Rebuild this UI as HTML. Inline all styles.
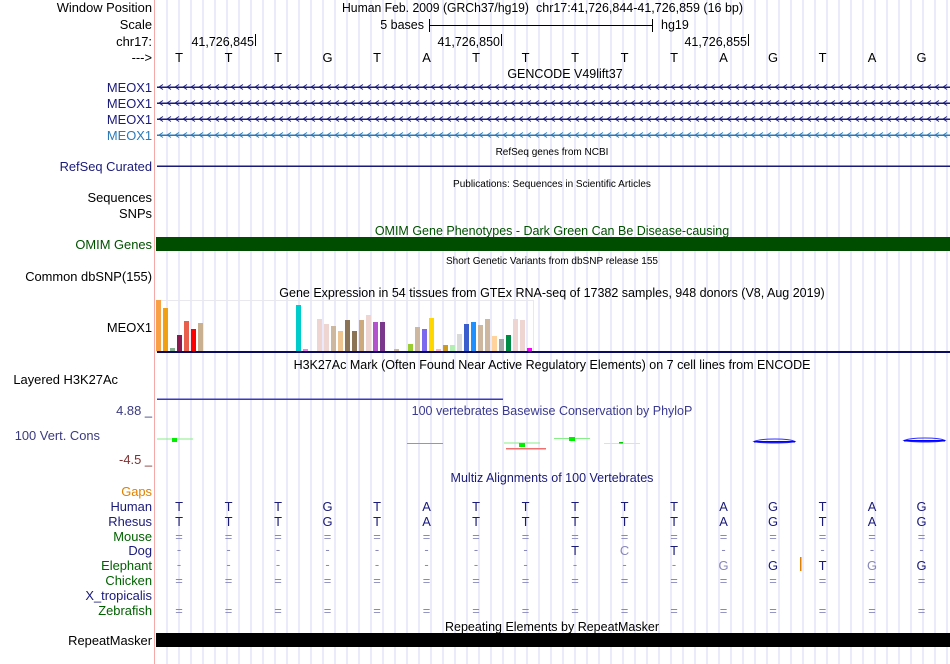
<!DOCTYPE html>
<html><head><meta charset="utf-8"><style>
html,body{margin:0;padding:0;background:#fff}
svg{display:block;font-family:"Liberation Sans",sans-serif}
</style></head><body>
<svg width="950" height="664" viewBox="0 0 950 664" xmlns="http://www.w3.org/2000/svg">
<defs>
<pattern id="grid" patternUnits="userSpaceOnUse" x="166.5" y="0" width="12" height="10">
<rect x="0" y="0" width="1" height="10" fill="#d6d6f6"/>
</pattern>
<pattern id="chev" patternUnits="userSpaceOnUse" x="157" y="0" width="8" height="664">
<path d="M6,84.5 L2,87 L6,89.5 M6,100.5 L2,103 L6,105.5 M6,116.5 L2,119 L6,121.5" stroke="#1a1a7a" stroke-width="0.9" fill="none"/>
<path d="M6,132.5 L2,135 L6,137.5" stroke="#2a7ab8" stroke-width="0.9" fill="none"/>
</pattern>
</defs>
<rect x="156" y="0" width="794" height="664" fill="url(#grid)"/>
<rect x="154" y="0" width="1" height="664" fill="#f4a8a8"/>

<g font-size="12.9" text-anchor="end" fill="#000">
<text x="152" y="12">Window Position</text>
<text x="152" y="29">Scale</text>
<text x="152" y="46">chr17:</text>
<text x="152" y="62">---&gt;</text>
<text x="152" y="92" fill="#1a1a7a">MEOX1</text>
<text x="152" y="108" fill="#1a1a7a">MEOX1</text>
<text x="152" y="124" fill="#1a1a7a">MEOX1</text>
<text x="152" y="140" fill="#2a7ab8">MEOX1</text>
<text x="152" y="171" fill="#1a1a7a">RefSeq Curated</text>
<text x="152" y="202">Sequences</text>
<text x="152" y="218">SNPs</text>
<text x="152" y="249" fill="#005000">OMIM Genes</text>
<text x="152" y="281">Common dbSNP(155)</text>
<text x="152" y="332">MEOX1</text>
<text x="118" y="384">Layered H3K27Ac</text>
<text x="152" y="415" fill="#3a3a80">4.88 _</text>
<text x="100" y="440" fill="#3a3a80">100 Vert. Cons</text>
<text x="152" y="464" fill="#803030">-4.5 _</text>
<text x="152" y="496" fill="#e08000">Gaps</text>
<text x="152" y="511" fill="#1a1a7a">Human</text>
<text x="152" y="526" fill="#1a1a7a">Rhesus</text>
<text x="152" y="541" fill="#006000">Mouse</text>
<text x="152" y="555" fill="#1a1a7a">Dog</text>
<text x="152" y="570" fill="#006000">Elephant</text>
<text x="152" y="585" fill="#006000">Chicken</text>
<text x="152" y="600" fill="#1a1a7a">X_tropicalis</text>
<text x="152" y="615" fill="#006000">Zebrafish</text>
<text x="152" y="645">RepeatMasker</text>
</g>

<g font-size="12.5" fill="#000">
<text x="342" y="12" textLength="187" lengthAdjust="spacingAndGlyphs">Human Feb. 2009 (GRCh37/hg19)</text>
<text x="536" y="12" textLength="207" lengthAdjust="spacingAndGlyphs">chr17:41,726,844-41,726,859 (16 bp)</text>
<text x="424" y="29" text-anchor="end">5 bases</text>
<path d="M429.5,19v13M429,25.5H652M652.5,19v13" stroke="#000" fill="none"/>
<text x="661" y="29">hg19</text>
<text x="254" y="46" text-anchor="end">41,726,845</text>
<rect x="255" y="34" width="1" height="12" fill="#000"/>
<text x="500" y="46" text-anchor="end">41,726,850</text>
<rect x="501" y="34" width="1" height="12" fill="#000"/>
<text x="747" y="46" text-anchor="end">41,726,855</text>
<rect x="748" y="34" width="1" height="12" fill="#000"/>
<text x="565" y="78" text-anchor="middle">GENCODE V49lift37</text>
<text x="552" y="235" text-anchor="middle" fill="#005000">OMIM Gene Phenotypes - Dark Green Can Be Disease-causing</text>
<text x="552" y="297" text-anchor="middle">Gene Expression in 54 tissues from GTEx RNA-seq of 17382 samples, 948 donors (V8, Aug 2019)</text>
<text x="552" y="369" text-anchor="middle">H3K27Ac Mark (Often Found Near Active Regulatory Elements) on 7 cell lines from ENCODE</text>
<text x="552" y="415" text-anchor="middle" fill="#3a3a90">100 vertebrates Basewise Conservation by PhyloP</text>
<text x="552" y="482" text-anchor="middle" fill="#1a1a7a">Multiz Alignments of 100 Vertebrates</text>
<text x="552" y="631" text-anchor="middle">Repeating Elements by RepeatMasker</text>
</g>
<g font-size="10" fill="#000" text-anchor="middle">
<text x="552" y="155">RefSeq genes from NCBI</text>
<text x="552" y="187">Publications: Sequences in Scientific Articles</text>
<text x="552" y="264">Short Genetic Variants from dbSNP release 155</text>
</g>

<g font-size="12.9" text-anchor="middle" fill="#000">
<text x="179" y="62">T</text><text x="228.5" y="62">T</text><text x="278" y="62">T</text><text x="327.5" y="62">G</text><text x="377" y="62">T</text><text x="426.5" y="62">A</text><text x="476" y="62">T</text><text x="525.5" y="62">T</text><text x="575" y="62">T</text><text x="624.5" y="62">T</text><text x="674" y="62">T</text><text x="723.5" y="62">A</text><text x="773" y="62">G</text><text x="822.5" y="62">T</text><text x="872" y="62">A</text><text x="921.5" y="62">G</text>
</g>

<rect x="157" y="86.5" width="793" height="1.5" fill="#1a1a7a"/>
<rect x="157" y="102.5" width="793" height="1.5" fill="#1a1a7a"/>
<rect x="157" y="118.5" width="793" height="1.5" fill="#1a1a7a"/>
<rect x="157" y="134.5" width="793" height="1.5" fill="#2a7ab8"/>
<rect x="157" y="80" width="793" height="62" fill="url(#chev)"/>
<rect x="157" y="165.5" width="793" height="1.5" fill="#1a1a7a"/>

<rect x="156" y="237" width="794" height="14" fill="#004d00"/>

<rect x="156.5" y="300.5" width="377" height="51" fill="none" stroke="#e8e8ee"/>
<g>
<rect x="156" y="300" width="5" height="51" fill="#f8a048"/>
<rect x="163" y="308" width="5" height="43" fill="#f0a010"/>
<rect x="170" y="348" width="5" height="3" fill="#88b090"/>
<rect x="177" y="335" width="5" height="16" fill="#8b1a50"/>
<rect x="184" y="321" width="5" height="30" fill="#e8604c"/>
<rect x="191" y="329" width="5" height="22" fill="#ff0000"/>
<rect x="198" y="323" width="5" height="28" fill="#c8b090"/>
<rect x="296" y="305" width="5" height="46" fill="#00cccc"/>
<rect x="303" y="349" width="5" height="2" fill="#ee82ee"/>
<rect x="317" y="319" width="5" height="32" fill="#eed5d2"/>
<rect x="324" y="324" width="5" height="27" fill="#eed5d2"/>
<rect x="331" y="326" width="5" height="25" fill="#cdb79e"/>
<rect x="338" y="331" width="5" height="20" fill="#eec591"/>
<rect x="345" y="320" width="5" height="31" fill="#8b7355"/>
<rect x="352" y="331" width="5" height="20" fill="#8b7355"/>
<rect x="359" y="320" width="5" height="31" fill="#cdaa7d"/>
<rect x="366" y="315" width="5" height="36" fill="#eed5d2"/>
<rect x="373" y="322" width="5" height="29" fill="#b452cd"/>
<rect x="380" y="322" width="5" height="29" fill="#7a378b"/>
<rect x="394" y="349" width="5" height="2" fill="#cdb79e"/>
<rect x="408" y="344" width="5" height="7" fill="#9acd32"/>
<rect x="415" y="327" width="5" height="24" fill="#cdb79e"/>
<rect x="422" y="329" width="5" height="22" fill="#7b68ee"/>
<rect x="429" y="318" width="5" height="33" fill="#ffd700"/>
<rect x="436" y="349" width="5" height="2" fill="#ffb6c1"/>
<rect x="443" y="345" width="5" height="6" fill="#cd9b1d"/>
<rect x="450" y="345" width="5" height="6" fill="#b4eeb4"/>
<rect x="457" y="334" width="5" height="17" fill="#d9d9d9"/>
<rect x="464" y="324" width="5" height="27" fill="#3a5fcd"/>
<rect x="471" y="322" width="5" height="29" fill="#1e90ff"/>
<rect x="478" y="325" width="5" height="26" fill="#cdb79e"/>
<rect x="485" y="319" width="5" height="32" fill="#cdb79e"/>
<rect x="492" y="336" width="5" height="15" fill="#ffd39b"/>
<rect x="499" y="339" width="5" height="12" fill="#a6a6a6"/>
<rect x="506" y="335" width="5" height="16" fill="#008b45"/>
<rect x="513" y="319" width="5" height="32" fill="#eed5d2"/>
<rect x="520" y="320" width="5" height="31" fill="#eed5d2"/>
<rect x="527" y="348" width="5" height="3" fill="#ff00ff"/>
</g>
<rect x="157" y="351" width="793" height="2" fill="#0a0a60"/>

<rect x="157" y="398.5" width="346" height="1.5" fill="#3a3ac0"/>

<rect x="157" y="438.5" width="36" height="1" fill="#88ee88"/>
<rect x="172" y="438" width="5" height="4" fill="#00ee00"/>
<rect x="407" y="443" width="36" height="1" fill="#999999"/>
<rect x="504" y="442.5" width="36" height="1" fill="#88ee88"/>
<rect x="519" y="443" width="6" height="4" fill="#00ee00"/>
<rect x="506" y="448" width="40" height="1.5" fill="#f07070"/>
<rect x="554" y="438" width="36" height="1" fill="#88ee88"/>
<rect x="569" y="437" width="6" height="4" fill="#00ee00"/>
<rect x="604" y="443" width="36" height="1" fill="#c8f0c8"/>
<rect x="619" y="442" width="4" height="1.5" fill="#00cc00"/>
<path d="M754,441.5 Q760,439 775,439 Q790,439 795,441.5 Q790,443 775,443 Q760,443 754,441.5Z" fill="none" stroke="#3030ff" stroke-width="1"/>
<rect x="754" y="441" width="41" height="1.5" fill="#0000ff"/>
<path d="M904,440.5 Q910,438 925,438 Q940,438 945,440.5 Q940,442 925,442 Q910,442 904,440.5Z" fill="none" stroke="#3030ff" stroke-width="1"/>
<rect x="904" y="440" width="41" height="1.5" fill="#0000ff"/>

<g font-size="12.9" text-anchor="middle" fill="#1a1a7a">
<g transform="translate(0,511)"><text x="179">T</text><text x="228.5">T</text><text x="278">T</text><text x="327.5">G</text><text x="377">T</text><text x="426.5">A</text><text x="476">T</text><text x="525.5">T</text><text x="575">T</text><text x="624.5">T</text><text x="674">T</text><text x="723.5">A</text><text x="773">G</text><text x="822.5">T</text><text x="872">A</text><text x="921.5">G</text></g>
<g transform="translate(0,526)"><text x="179">T</text><text x="228.5">T</text><text x="278">T</text><text x="327.5">G</text><text x="377">T</text><text x="426.5">A</text><text x="476">T</text><text x="525.5">T</text><text x="575">T</text><text x="624.5">T</text><text x="674">T</text><text x="723.5">A</text><text x="773">G</text><text x="822.5">T</text><text x="872">A</text><text x="921.5">G</text></g>
</g>
<g font-size="12.9" text-anchor="middle" fill="#8888bb">
<g transform="translate(0,541)"><text x="179">=</text><text x="228.5">=</text><text x="278">=</text><text x="327.5">=</text><text x="377">=</text><text x="426.5">=</text><text x="476">=</text><text x="525.5">=</text><text x="575">=</text><text x="624.5">=</text><text x="674">=</text><text x="723.5">=</text><text x="773">=</text><text x="822.5">=</text><text x="872">=</text><text x="921.5">=</text></g>
<g transform="translate(0,554)"><text x="179">-</text><text x="228.5">-</text><text x="278">-</text><text x="327.5">-</text><text x="377">-</text><text x="426.5">-</text><text x="476">-</text><text x="525.5">-</text><text x="723.5">-</text><text x="773">-</text><text x="822.5">-</text><text x="872">-</text><text x="921.5">-</text></g>
<g transform="translate(0,569)"><text x="179">-</text><text x="228.5">-</text><text x="278">-</text><text x="327.5">-</text><text x="377">-</text><text x="426.5">-</text><text x="476">-</text><text x="525.5">-</text><text x="575">-</text><text x="624.5">-</text><text x="674">-</text></g>
<g transform="translate(0,585)"><text x="179">=</text><text x="228.5">=</text><text x="278">=</text><text x="327.5">=</text><text x="377">=</text><text x="426.5">=</text><text x="476">=</text><text x="525.5">=</text><text x="575">=</text><text x="624.5">=</text><text x="674">=</text><text x="723.5">=</text><text x="773">=</text><text x="822.5">=</text><text x="872">=</text><text x="921.5">=</text></g>
<g transform="translate(0,615)"><text x="179">=</text><text x="228.5">=</text><text x="278">=</text><text x="327.5">=</text><text x="377">=</text><text x="426.5">=</text><text x="476">=</text><text x="525.5">=</text><text x="575">=</text><text x="624.5">=</text><text x="674">=</text><text x="723.5">=</text><text x="773">=</text><text x="822.5">=</text><text x="872">=</text><text x="921.5">=</text></g>
<text x="624.5" y="555">C</text>
<text x="723.5" y="570">G</text>
<text x="872" y="570">G</text>
</g>
<g font-size="12.9" text-anchor="middle" fill="#1a1a7a">
<text x="575" y="555">T</text><text x="674" y="555">T</text>
<text x="773" y="570">G</text><text x="822.5" y="570">T</text><text x="921.5" y="570">G</text>
</g>
<rect x="800" y="557" width="1.5" height="14" fill="#e08000"/>

<rect x="156" y="633" width="794" height="14" fill="#000"/>
</svg>
</body></html>
